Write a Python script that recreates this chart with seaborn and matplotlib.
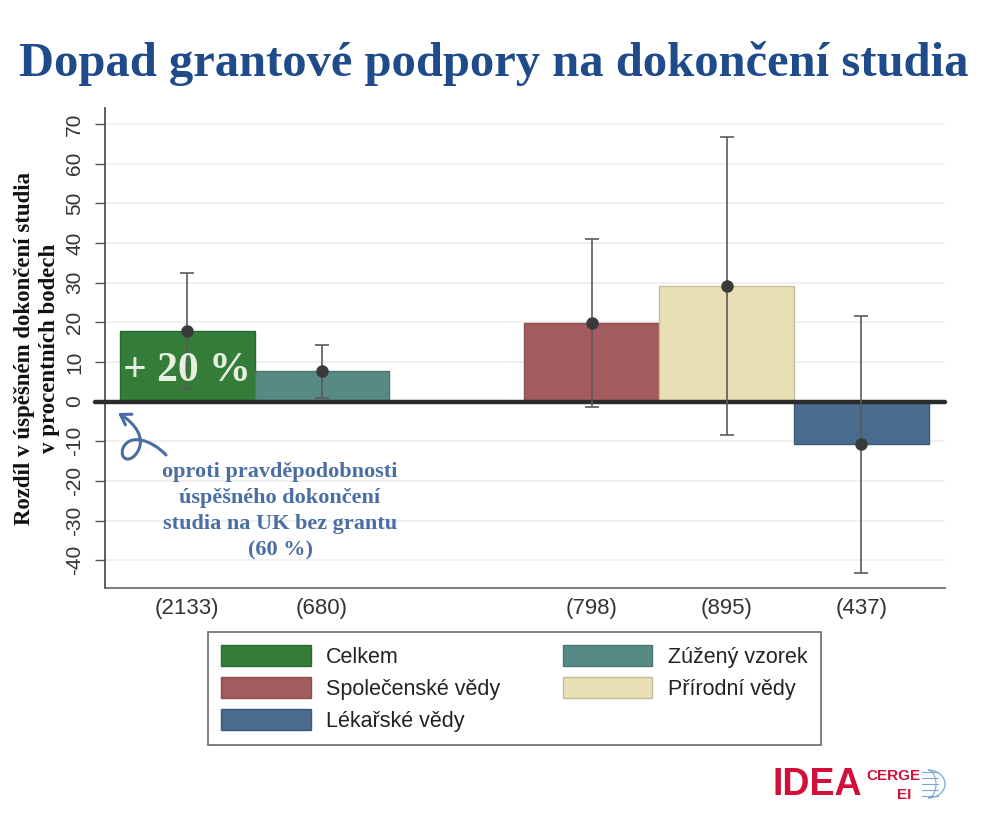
import matplotlib
matplotlib.use("Agg")
import matplotlib.pyplot as plt
import seaborn as sns
import pandas as pd
import numpy as np
from matplotlib.patches import Patch, FancyArrowPatch, Arc
from matplotlib.path import Path
from matplotlib.lines import Line2D

# ---- data ----
groups = ["Celkem", "Zúžený vzorek", "Společenské vědy", "Přírodní vědy", "Lékařské vědy"]
sample_sizes = ["(2133)", "(680)", "(798)", "(895)", "(437)"]
effects = [17.8, 7.6, 19.9, 29.1, -10.7]
ci_low = [3.2, 0.8, -1.3, -8.4, -43.3]
ci_high = [32.3, 14.3, 41.0, 66.6, 21.6]
colors = ["#337d38", "#578a82", "#a45b5f", "#e8dfb4", "#486b8e"]
yticks = list(range(-40, 80, 10))

df = pd.DataFrame({"n": sample_sizes, "effect": effects, "group": groups})
order = [sample_sizes[0], sample_sizes[1], " ", sample_sizes[2], sample_sizes[3], sample_sizes[4]]

sns.set_theme(style="white")
plt.rcParams["font.family"] = ["Liberation Sans", "DejaVu Sans"]
SERIF = ["Liberation Serif", "DejaVu Serif"]

W, H = 988, 832
def fx(x):
    return x / W
def fy(y):
    return 1 - y / H

fig = plt.figure(figsize=(9.88, 8.32), dpi=100)
ax = fig.add_axes([fx(105), fy(588), (945 - 105) / W, (588 - 108) / H])

sns.barplot(data=df, x="n", y="effect", hue="group", order=order, hue_order=groups,
            palette=colors, dodge=False, width=1.0, legend=False, ax=ax,
            saturation=1, linewidth=1, zorder=2)
for p in ax.patches:
    fc = p.get_facecolor()
    p.set_edgecolor(tuple(np.array(fc[:3]) * 0.85) + (1,))

pos = [order.index(s) for s in sample_sizes]
eff = np.array(effects)
ax.errorbar(pos, eff, yerr=[eff - np.array(ci_low), np.array(ci_high) - eff],
            fmt="o", color="#3a3a3a", ecolor="#5a5a5a", elinewidth=1.2,
            capsize=5, capthick=1.2, markersize=8, zorder=4)

ax.set_xlim(-0.61, 5.62)
ax.set_ylim(-47, 74)
ax.set_yticks(yticks)
ax.set_yticklabels([str(t) for t in yticks], rotation=90, va="center",
                   fontsize=15, color="#333333")
ax.tick_params(axis="y", left=True, length=7, width=1, color="#555555", pad=8)
ax.tick_params(axis="x", bottom=False, labelsize=16, labelcolor="#333333", pad=1)
ax.set_xlabel("")
ax.set_ylabel("Rozdíl v úspěšném dokončení studia\nv procentních bodech",
              fontsize=16.5, fontweight="bold", family=SERIF,
              color="#111111", labelpad=4, linespacing=1.2)
ax.grid(axis="y", color="#ededed", linewidth=1.2)
ax.set_axisbelow(True)
for s in ["top", "right"]:
    ax.spines[s].set_visible(False)
ax.spines["left"].set_color("#444444")
ax.spines["bottom"].set_color("#666666")
ax.spines["left"].set_linewidth(1.2)
ax.spines["bottom"].set_linewidth(1.2)

# zero line
ax.plot([-0.012, 1.0], [0, 0], transform=ax.get_yaxis_transform(), color="#2b2b2b",
        linewidth=3.2, clip_on=False, zorder=3)

# annotations
ax.text(0.0, 7.8, "+ 20 %", ha="center", va="center", fontsize=30, fontweight="bold",
        color="#e6efe0", family=SERIF, zorder=5)
fig.text(fx(280), fy(511),
         "oproti pravděpodobnosti\núspěšného dokončení\nstudia na UK bez grantu\n(60 %)",
         ha="center", va="center", fontsize=16, fontweight="bold", color="#4a6ea3",
         family=SERIF, linespacing=1.42)
verts = [(166, 455), (152, 440), (130, 433), (123, 448),
         (119, 460), (131, 464), (138, 451),
         (145, 438), (136, 424), (118, 413)]
verts = [(fx(x), fy(y)) for x, y in verts]
codes = [Path.MOVETO] + [Path.CURVE4] * 9
arr = FancyArrowPatch(path=Path(verts, codes), transform=fig.transFigure,
                      arrowstyle="->,head_length=7,head_width=4.5",
                      color="#4a6ea3", linewidth=2.2)
fig.patches.append(arr)

# legend
handles = [Patch(facecolor=colors[i],
                 edgecolor=tuple(np.array(matplotlib.colors.to_rgb(colors[i])) * 0.85),
                 label=groups[i]) for i in [0, 2, 4, 1, 3]]
leg = fig.legend(handles=handles, ncol=2, loc="upper left", bbox_to_anchor=(fx(208), fy(632)),
                 borderaxespad=0, frameon=True, fancybox=False, fontsize=15.5,
                 handlelength=4.15, handleheight=1.12, handletextpad=0.72,
                 columnspacing=2.9, labelspacing=0.42, borderpad=0.62)
leg.get_frame().set_edgecolor("#444444")
leg.get_frame().set_linewidth(1.2)
for t in leg.get_texts():
    t.set_color("#222222")

# title
fig.text(0.5, fy(64), "Dopad grantové podpory na dokončení studia", ha="center", va="center",
         fontsize=35, fontweight="bold", color="#1f4b8b", family=SERIF)

# logo
fig.text(fx(772), fy(785), "IDEA", ha="left", va="center", fontsize=27, fontweight="bold",
         color="#d0103a")
fig.text(fx(866), fy(776), "CERGE", ha="left", va="center", fontsize=11, fontweight="bold",
         color="#d0103a")
fig.text(fx(897), fy(795), "EI", ha="left", va="center", fontsize=11, fontweight="bold",
         color="#d0103a")
globe_c = "#7fa6cf"
for yy in [772, 778, 784, 790, 796]:
    fig.add_artist(Line2D([fx(922), fx(938)], [fy(yy), fy(yy)], color=globe_c, linewidth=0.8))
fig.add_artist(Arc((fx(928), fy(784)), fx(34), 28 / H, theta1=-90, theta2=90,
                   color=globe_c, linewidth=0.9, transform=fig.transFigure))
fig.add_artist(Arc((fx(928), fy(784)), fx(16), 28 / H, theta1=-90, theta2=90,
                   color=globe_c, linewidth=0.8, transform=fig.transFigure))

fig.savefig("out.png", dpi=100, facecolor="white")
